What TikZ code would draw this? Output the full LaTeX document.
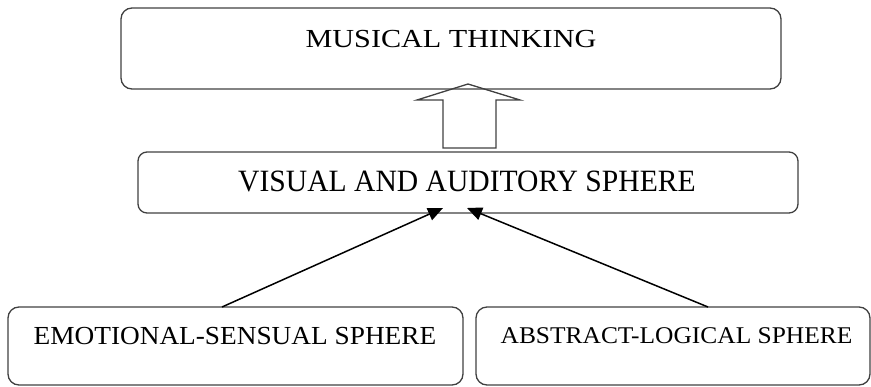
\documentclass[tikz,border=0pt]{standalone}
\usepackage{fontspec}
\setmainfont{Liberation Serif}
\usetikzlibrary{arrows.meta,calc}
\begin{document}
\begin{tikzpicture}[x=1pt,y=-1pt,
  boxline/.style={draw=black!75, line width=1.3pt, rounded corners=11pt, inner sep=0pt, outer sep=0pt},
  lbl/.style={inner sep=0pt, anchor=base, text=black},
  conn/.style={draw=black, line width=1.5pt, -{Triangle[length=15pt,width=13pt]}},
  blockarrow/.style={draw=black!75, line width=1.3pt, fill=none}
]
\useasboundingbox (0,0) rectangle (871,386);
% boxes
\node[boxline, minimum width=660pt, minimum height=81pt] (mt) at (451,48.5) {};
\node[boxline, rounded corners=9pt, minimum width=660pt, minimum height=61pt] (vas) at (468,182.5) {};
\node[boxline, minimum width=455pt, minimum height=78pt] (es) at (235.5,346) {};
\node[boxline, minimum width=394pt, minimum height=78pt] (al) at (673,346) {};
% texts
\node[lbl] (t1) at (451,47.5) {\fontsize{26}{26}\selectfont\scalebox{1.16}[1]{MUSICAL THINKING}};
\node[lbl] (t2) at (467,191) {\fontsize{31}{31}\selectfont\scalebox{0.955}[1]{VISUAL AND AUDITORY SPHERE}};
\node[lbl] (t3) at (235,344) {\fontsize{26}{26}\selectfont\scalebox{1.05}[1]{EMOTIONAL-SENSUAL SPHERE}};
\node[lbl] (t4) at (676.5,343.5) {\fontsize{24}{24}\selectfont\scalebox{1.06}[1]{ABSTRACT-LOGICAL SPHERE}};
% connector end points
\coordinate (ltail) at ($(es.north west)+(214,0)$);
\coordinate (rtail) at ($(al.north west)+(232,0)$);
\coordinate (lhead) at ($(vas.south west)+(305,-5)$);
\coordinate (rhead) at ($(vas.south west)+(329,-5)$);
% block arrow from middle box to top box
\draw[blockarrow] ($(mt.south west)+(347,-5)$) -- ++(52,16) -- ++(-24,0) -- ($(vas.north west)+(358,-4)$)
  -- ++(-53,0) -- ++(0,-48) -- ++(-26,0) -- cycle;
% connectors
\draw[conn] (ltail) -- (lhead);
\draw[conn] (rtail) -- (rhead);
\end{tikzpicture}
\end{document}
